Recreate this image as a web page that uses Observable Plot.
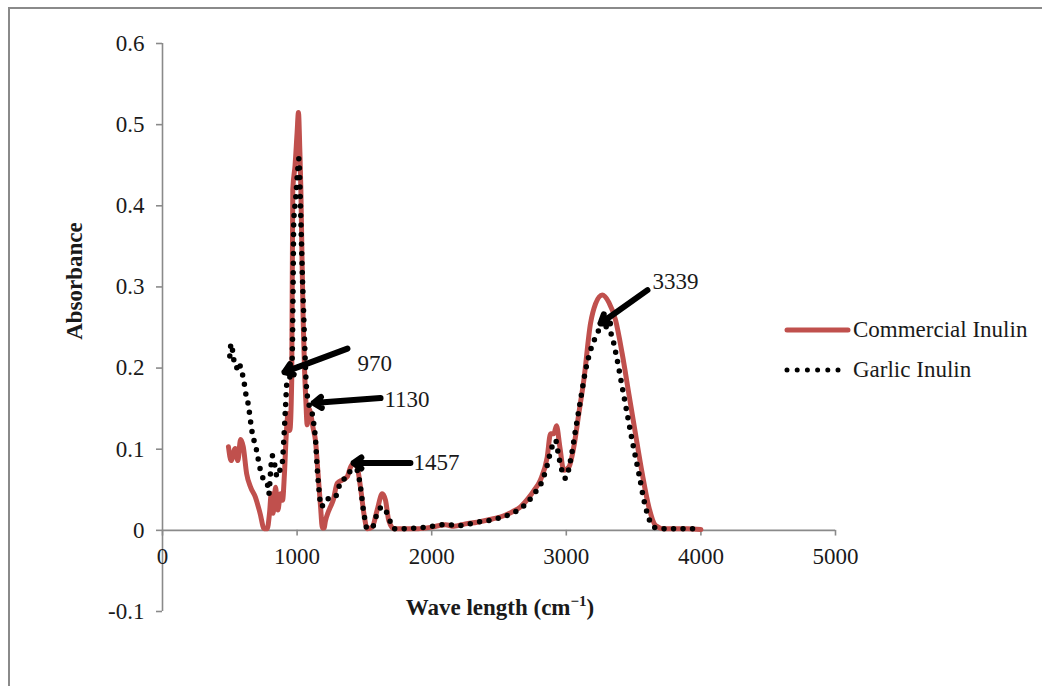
<!DOCTYPE html>
<html>
<head>
<meta charset="utf-8">
<script src="https://cdn.jsdelivr.net/npm/d3@7"></script>
<script src="https://cdn.jsdelivr.net/npm/@observablehq/plot@0.6"></script>
<style>
  html, body { margin: 0; padding: 0; background: #fff; }
  #wrap { position: relative; width: 1042px; height: 686px; overflow: hidden; background: #fff;
          font-family: "Liberation Serif", "Times New Roman", serif; color: #1a1a1a; }
  #frame { position: absolute; left: 8px; top: 7px; width: 1200px; height: 900px;
           border-left: 2px solid #8a8a8a; border-top: 2px solid #8a8a8a; pointer-events: none; }
  #chart { position: absolute; left: 0; top: 0; }
  .title { position: absolute; font-weight: bold; font-size: 23px; white-space: nowrap; }
  .leg { position: absolute; font-size: 23px; white-space: nowrap; line-height: 1; }
</style>
</head>
<body>
<div id="wrap">
  <div id="chart"></div>
  <div id="frame"></div>
  <div class="title" id="ytitle" style="left:75px; top:281px; transform: translate(-50%,-50%) rotate(-90deg);">Absorbance</div>
  <div class="title" id="xtitle" style="left:500px; top:608px; transform: translate(-50%,-50%);">Wave length (cm<span style="font-size:15px; position:relative; top:-9px;">−1</span>)</div>
  <svg style="position:absolute; left:780px; top:315px;" width="75" height="70">
    <line x1="7" x2="68" y1="15" y2="15" stroke="#C0504D" stroke-width="5" stroke-linecap="round"></line>
    <line x1="7" x2="60" y1="55" y2="55" stroke="#000" stroke-width="5" stroke-linecap="round" stroke-dasharray="0 10.2"></line>
  </svg>
  <div class="leg" style="left:853px; top:318px;">Commercial Inulin</div>
  <div class="leg" style="left:853px; top:358px;">Garlic Inulin</div>
</div>
<script>
// ---- Data ----
const seriesNames = ["Commercial Inulin", "Garlic Inulin"];

const commercialX = [490,510,540,560,580,600,625,655,690,725,755,778,795,808,822,840,857,877,892,906,921,934,946,960,968,985,1000,1010,1020,1028,1036,1045,1055,1065,1075,1088,1105,1120,1137,1149,1160,1174,1188,1200,1211,1230,1248,1268,1298,1335,1372,1397,1421,1446,1471,1496,1521,1558,1595,1632,1657,1681,1719,1800,1900,2000,2103,2164,2250,2338,2450,2536,2600,2660,2720,2759,2808,2858,2883,2907,2927,2952,2981,3019,3056,3093,3130,3180,3217,3267,3316,3366,3415,3465,3514,3564,3613,3663,3725,3800,3900,4000];
const commercialY = [0.103,0.086,0.101,0.086,0.112,0.103,0.070,0.053,0.041,0.021,0.002,0.002,0.021,0.045,0.021,0.053,0.025,0.045,0.037,0.070,0.123,0.144,0.123,0.185,0.42,0.45,0.49,0.515,0.47,0.42,0.34,0.26,0.20,0.16,0.13,0.15,0.14,0.125,0.11,0.085,0.06,0.03,0.003,0.003,0.012,0.022,0.029,0.037,0.058,0.062,0.066,0.078,0.082,0.078,0.053,0.021,0.002,0.004,0.025,0.045,0.037,0.012,0.002,0.002,0.002,0.004,0.007,0.005,0.008,0.010,0.014,0.018,0.023,0.029,0.040,0.049,0.062,0.090,0.119,0.119,0.129,0.103,0.074,0.078,0.103,0.144,0.185,0.255,0.279,0.290,0.281,0.259,0.218,0.168,0.119,0.070,0.029,0.006,0.002,0.002,0.002,0.001];

const garlicX = [500,510,520,530,550,567,585,604,617,634,666,698,728,753,778,790,802,815,832,852,872,889,901,914,926,946,963,970,975,990,1005,1013,1022,1030,1038,1048,1058,1068,1087,1100,1112,1124,1137,1149,1161,1179,1199,1224,1261,1298,1322,1372,1409,1446,1471,1496,1521,1560,1595,1632,1669,1719,1800,1900,2000,2100,2200,2338,2450,2536,2600,2660,2720,2759,2808,2858,2883,2920,2945,2994,3031,3068,3105,3143,3180,3217,3254,3304,3341,3378,3415,3452,3489,3539,3588,3650,3700,3800,3900,4000];
const garlicY = [0.215,0.230,0.222,0.210,0.200,0.207,0.197,0.185,0.170,0.158,0.121,0.099,0.074,0.062,0.058,0.045,0.070,0.092,0.082,0.066,0.074,0.082,0.111,0.152,0.185,0.189,0.21,0.30,0.38,0.41,0.445,0.458,0.42,0.37,0.32,0.27,0.22,0.18,0.156,0.148,0.144,0.131,0.111,0.078,0.053,0.029,0.033,0.039,0.039,0.045,0.060,0.066,0.076,0.074,0.053,0.021,0.002,0.004,0.021,0.029,0.021,0.002,0.002,0.003,0.005,0.007,0.006,0.010,0.013,0.017,0.021,0.027,0.036,0.045,0.056,0.080,0.097,0.111,0.090,0.064,0.086,0.123,0.160,0.197,0.222,0.238,0.249,0.251,0.238,0.210,0.177,0.144,0.111,0.070,0.029,0.004,0.002,0.002,0.002,0.002];

const xTicks = [0, 1000, 2000, 3000, 4000, 5000];
const yTicks = [-0.1, 0, 0.1, 0.2, 0.3, 0.4, 0.5, 0.6];

// Peak annotations (wavenumber labels) with arrow tail/tip in data units
const annotLabels = ["970", "1130", "1457", "3339"];
const arrowTailX = [1374, 1620, 1842, 3603];
const arrowTailY = [0.224, 0.163, 0.083, 0.296];
const arrowTipX  = [906, 1122, 1419, 3254];
const arrowTipY  = [0.195, 0.157, 0.083, 0.255];
const labelX     = [1449, 1649, 1865, 3640];
const labelY     = [0.206, 0.161, 0.083, 0.306];

// ---- Build tables ----
const commercial = commercialX.map((x, i) => ({x, y: commercialY[i], s: seriesNames[0]}));
const garlic = garlicX.map((x, i) => ({x, y: garlicY[i], s: seriesNames[1]}));
const annots = annotLabels.map((t, i) => ({t, x1: arrowTailX[i], y1: arrowTailY[i], x2: arrowTipX[i], y2: arrowTipY[i], lx: labelX[i], ly: labelY[i]}));

const axisGray = "#8a8a8a";
const textCol = "#1a1a1a";

const chart = Plot.plot({
  width: 1042,
  height: 686,
  marginLeft: 162,
  marginRight: 207,
  marginTop: 43,
  marginBottom: 75,
  style: {fontFamily: "'Liberation Serif', 'Times New Roman', serif", fontSize: "23px", background: "transparent", color: textCol},
  x: {domain: [0, 5000], axis: null},
  y: {domain: [-0.1, 0.6], axis: null},
  marks: [
    // y axis
    Plot.ruleX([0], {stroke: axisGray, strokeWidth: 1.6}),
    Plot.axisY({ticks: yTicks, tickSize: 6, tickPadding: 12, tickFormat: d => String(d), stroke: axisGray, fill: textCol, fontSize: 23, label: null, strokeWidth: 1.6}),
    // x axis at y = 0
    Plot.ruleY([0], {x1: 0, x2: 5000, stroke: axisGray, strokeWidth: 1.6}),
    Plot.ruleX(xTicks, {x: d => d, y1: 0, y2: -0.007, stroke: axisGray, strokeWidth: 1.6}),
    Plot.text(xTicks, {x: d => d, y: 0, dy: 26, text: d => String(d), fill: textCol, fontSize: 23}),
    // series
    Plot.line(commercial, {x: "x", y: "y", stroke: "#C0504D", strokeWidth: 5, strokeLinejoin: "round", strokeLinecap: "round", curve: "monotone-x"}),
    Plot.line(garlic, {x: "x", y: "y", stroke: "#000", strokeWidth: 5.5, strokeLinecap: "round", strokeDasharray: "0 9.5", curve: "monotone-x"}),
    // annotations
    Plot.arrow(annots, {x1: "x1", y1: "y1", x2: "x2", y2: "y2", stroke: "#000", strokeWidth: 6, headLength: 2.4, headAngle: 70}),
    Plot.text(annots, {x: "lx", y: "ly", text: "t", textAnchor: "start", fill: textCol, fontSize: 23})
  ]
});
document.getElementById("chart").appendChild(chart);
</script>
</body>
</html>
